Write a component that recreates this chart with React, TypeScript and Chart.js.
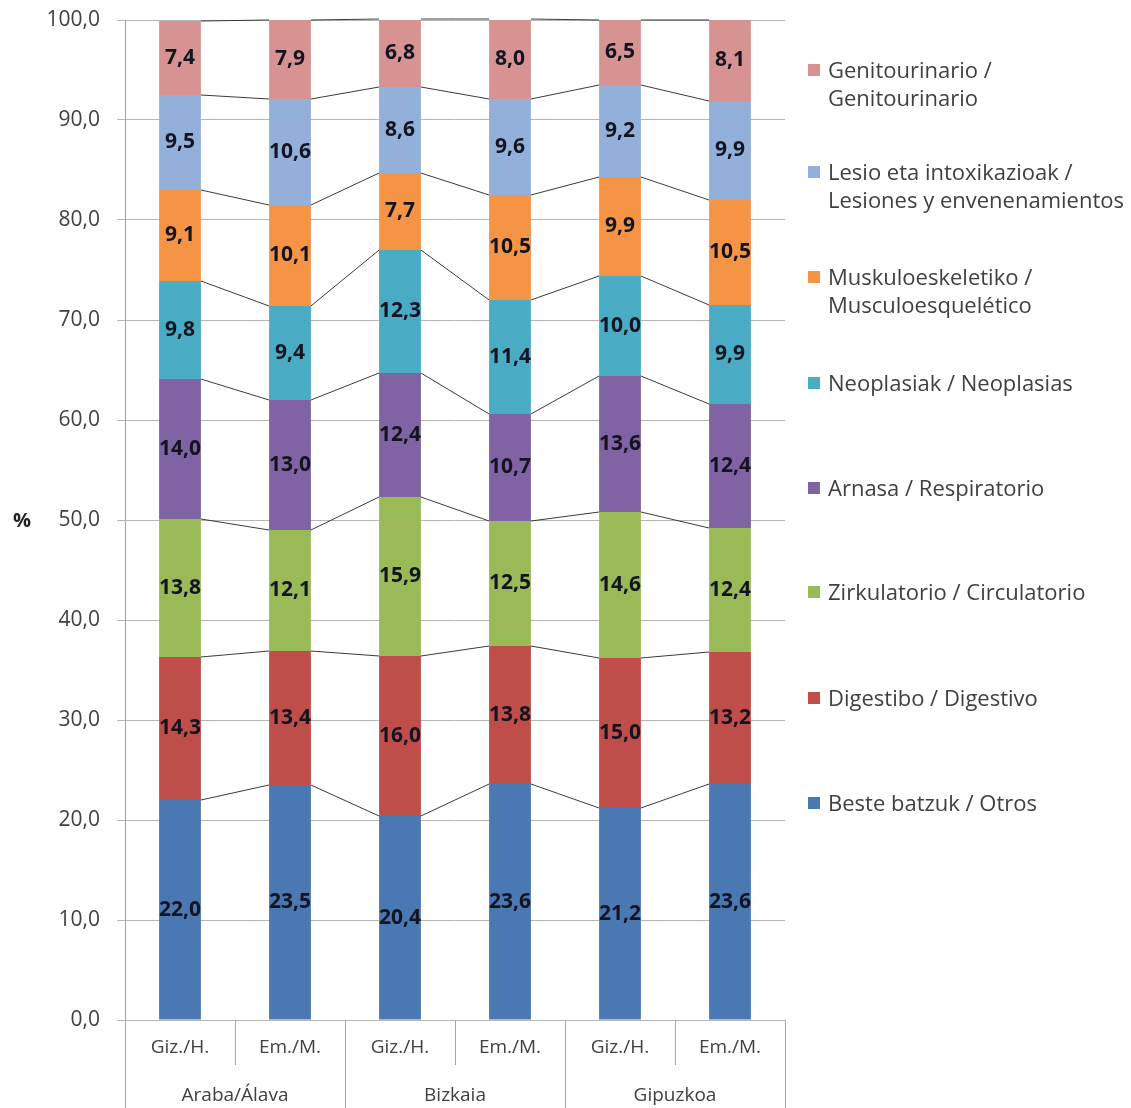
import React, { useEffect, useRef } from "react";
import { Chart, registerables } from "chart.js";

Chart.register(...registerables);

const categories = ["Giz./H.", "Em./M.", "Giz./H.", "Em./M.", "Giz./H.", "Em./M."];
const groups = ["Araba/Álava", "Bizkaia", "Gipuzkoa"];
const yTicks = [0, 10, 20, 30, 40, 50, 60, 70, 80, 90, 100];

const otros = [22.0, 23.5, 20.4, 23.6, 21.2, 23.6];
const digestivo = [14.3, 13.4, 16.0, 13.8, 15.0, 13.2];
const circulatorio = [13.8, 12.1, 15.9, 12.5, 14.6, 12.4];
const respiratorio = [14.0, 13.0, 12.4, 10.7, 13.6, 12.4];
const neoplasias = [9.8, 9.4, 12.3, 11.4, 10.0, 9.9];
const musculo = [9.1, 10.1, 7.7, 10.5, 9.9, 10.5];
const lesiones = [9.5, 10.6, 8.6, 9.6, 9.2, 9.9];
const genito = [7.4, 7.9, 6.8, 8.0, 6.5, 8.1];

const seriesNames = [
  ["Beste batzuk / Otros"],
  ["Digestibo / Digestivo"],
  ["Zirkulatorio / Circulatorio"],
  ["Arnasa / Respiratorio"],
  ["Neoplasiak / Neoplasias"],
  ["Muskuloeskeletiko /", "Musculoesquelético"],
  ["Lesio eta intoxikazioak /", "Lesiones y envenenamientos"],
  ["Genitourinario /", "Genitourinario"],
];
const seriesData = [otros, digestivo, circulatorio, respiratorio, neoplasias, musculo, lesiones, genito];
const seriesColors = ["#4a78b3", "#bf4e4b", "#9aba58", "#7f63a2", "#4aabc5", "#f59444", "#92b0d9", "#d79391"];

const legendTops = [803, 698, 592, 488, 383, 277, 172, 70];

const FONT = "'Open Sans', sans-serif";

const fmt = (v: number) => v.toFixed(1).replace(".", ",");

export default function App() {
  const ref = useRef<HTMLCanvasElement | null>(null);

  useEffect(() => {
    if (!ref.current) return;
    const labelPlugin = {
      id: "segLabels",
      afterDatasetsDraw(chart: any) {
        const ctx = chart.ctx;
        ctx.save();
        ctx.strokeStyle = "#3a3a3a";
        ctx.lineWidth = 1;
        chart.data.datasets.forEach((_: any, di: number) => {
          const meta = chart.getDatasetMeta(di);
          const els = meta.data;
          for (let i = 0; i < els.length - 1; i++) {
            const a = els[i];
            const b = els[i + 1];
            ctx.beginPath();
            ctx.moveTo(a.x + a.width / 2, a.y);
            ctx.lineTo(b.x - b.width / 2, b.y);
            ctx.stroke();
          }
        });
        ctx.font = `bold 21px ${FONT}`;
        ctx.fillStyle = "#141420";
        ctx.textAlign = "center";
        ctx.textBaseline = "middle";
        chart.data.datasets.forEach((ds: any, di: number) => {
          const meta = chart.getDatasetMeta(di);
          meta.data.forEach((el: any, i: number) => {
            ctx.fillText(fmt(ds.data[i]), el.x, (el.y + el.base) / 2);
          });
        });
        ctx.restore();
      },
      afterDraw(chart: any) {
        const ctx = chart.ctx;
        const x = chart.scales.x;
        const half = (x.getPixelForValue(1) - x.getPixelForValue(0)) / 2;
        ctx.save();
        ctx.strokeStyle = "#a6a6a6";
        ctx.lineWidth = 1;
        for (let i = 0; i <= categories.length; i++) {
          const px = Math.round(x.getPixelForValue(0) - half + i * 2 * half) + 0.5;
          const y0 = x.top;
          const y1 = i % 2 === 0 ? chart.height : x.top + 45;
          ctx.beginPath();
          ctx.moveTo(px, y0);
          ctx.lineTo(px, y1);
          ctx.stroke();
        }
        ctx.restore();
      },
    };

    const chart = new Chart(ref.current, {
      type: "bar",
      data: {
        labels: categories,
        datasets: seriesData.map((d, i) => ({
          label: seriesNames[i].join(" "),
          data: d,
          backgroundColor: seriesColors[i],
          borderWidth: 0,
          barPercentage: 0.38,
          categoryPercentage: 1,
          xAxisID: "x",
        })),
      },
      options: {
        animation: false,
        responsive: false,
        layout: { padding: { left: 0, right: 346, top: 20, bottom: 0 } },
        plugins: { legend: { display: false }, tooltip: { enabled: false } },
        scales: {
          x: {
            type: "category",
            stacked: true,
            offset: true,
            weight: 0,
            grid: { display: false },
            border: { display: false },
            ticks: { font: { family: FONT, size: 19 }, color: "#404040", padding: 8, maxRotation: 0, autoSkip: false },
            afterFit: (s: any) => { s.height = 50; s.paddingLeft = 0; s.paddingRight = 0; },
          },
          x2: {
            type: "category",
            labels: groups,
            position: "bottom",
            offset: true,
            weight: 1,
            grid: { display: false },
            border: { display: false },
            ticks: { font: { family: FONT, size: 19 }, color: "#404040", padding: 6, maxRotation: 0, autoSkip: false },
            afterFit: (s: any) => { s.height = 38; s.paddingLeft = 0; s.paddingRight = 0; },
          },
          y: {
            stacked: true,
            min: 0,
            max: 100,
            afterBuildTicks: (s: any) => { s.ticks = yTicks.map((v) => ({ value: v })); },
            ticks: {
              font: { family: FONT, size: 21 },
              color: "#404040",
              padding: 17,
              callback: (v: any) => fmt(Number(v)),
            },
            grid: { color: "#b5b5b5", tickLength: 8 },
            border: { display: true, color: "#a0a0a0" },
            afterFit: (s: any) => { s.width = 125; s.paddingTop = 0; s.paddingBottom = 0; },
          },
        },
      } as any,
      plugins: [labelPlugin],
    });
    return () => chart.destroy();
  }, []);

  return (
    <div style={{ position: "absolute", left: 0, top: 0, width: 1131, height: 1108, background: "#fff", overflow: "hidden" }}>
      <canvas ref={ref} width={1131} height={1108} style={{ width: 1131, height: 1108, display: "block" }} />
      <div style={{ position: "absolute", left: 13, top: 506, fontFamily: FONT, fontWeight: 700, fontSize: 20, color: "#222" }}>%</div>
      {seriesNames.map((lines, i) => (
        <div key={i} style={{ position: "absolute", left: 808, top: legendTops[i] - 15, fontFamily: FONT, fontSize: 22, lineHeight: "28px", color: "#404040", whiteSpace: "nowrap" }}>
          <span style={{ position: "absolute", left: 0, top: 9, width: 12, height: 12, background: seriesColors[i] }} />
          {lines.map((t, j) => (
            <div key={j} style={{ marginLeft: 20 }}>{t}</div>
          ))}
        </div>
      ))}
    </div>
  );
}
